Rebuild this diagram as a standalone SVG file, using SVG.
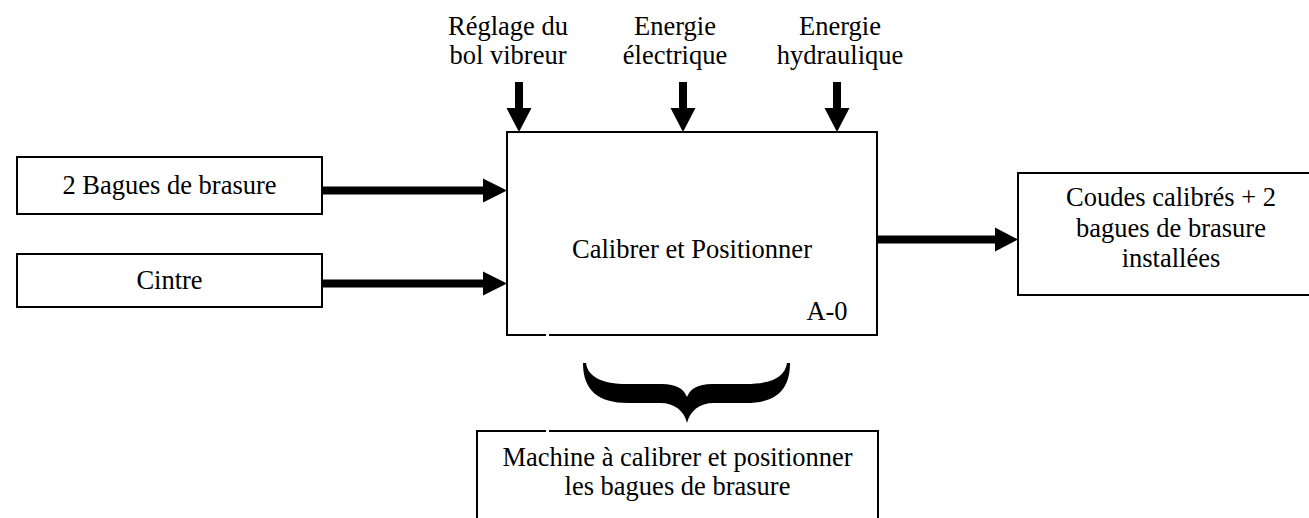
<svg xmlns="http://www.w3.org/2000/svg" width="1309" height="518" viewBox="0 0 1309 518">
  <style>
    .box { fill: none; stroke: #000; stroke-width: 2; }
    .t { font-family: "Liberation Serif", "Times New Roman", serif; font-size: 26.5px; fill: #000; text-anchor: middle; }
    .shaft { stroke: #000; stroke-width: 8; fill: none; }
    .head { fill: #000; stroke: none; }
  </style>
  <rect width="1309" height="518" fill="#fff"/>

  <g id="controls">
    <text class="t" x="508" y="35">Réglage du</text>
    <text class="t" x="508" y="63.5">bol vibreur</text>
    <text class="t" x="675" y="35">Energie</text>
    <text class="t" x="675" y="63.5">électrique</text>
    <text class="t" x="840" y="35">Energie</text>
    <text class="t" x="840" y="63.5">hydraulique</text>
  </g>

  <g id="node-input1">
    <rect class="box" x="17" y="157" width="305" height="57"/>
    <text class="t" x="169.5" y="193.5">2 Bagues de brasure</text>
  </g>

  <g id="node-input2">
    <rect class="box" x="17" y="254" width="305" height="53"/>
    <text class="t" x="169.5" y="288.5">Cintre</text>
  </g>

  <g id="node-main">
    <path class="box" d="M546,335 L507,335 L507,132 L877,132 L877,335 L549,335"/>
    <text class="t" x="692" y="258">Calibrer et Positionner</text>
    <text class="t" x="827" y="320">A-0</text>
  </g>

  <g id="node-output">
    <rect class="box" x="1018" y="173" width="320" height="122"/>
    <text class="t" x="1171" y="206">Coudes calibrés + 2</text>
    <text class="t" x="1171" y="236.5">bagues de brasure</text>
    <text class="t" x="1171" y="267">installées</text>
  </g>

  <g id="node-mechanism">
    <path class="box" d="M477,530 L477,431 L546,431 M549,431 L878,431 L878,530"/>
    <text class="t" x="677.5" y="466">Machine à calibrer et positionner</text>
    <text class="t" x="677.5" y="494.5">les bagues de brasure</text>
  </g>

  <g id="connectors">
    <line class="shaft" x1="322" y1="190.5" x2="485" y2="190.5"/>
    <polygon class="head" points="483,178.5 507,190.5 483,202.5"/>
    <line class="shaft" x1="322" y1="283.5" x2="485" y2="283.5"/>
    <polygon class="head" points="483,271.5 507,283.5 483,295.5"/>

    <line class="shaft" x1="519" y1="82" x2="519" y2="110"/>
    <polygon class="head" points="506.5,108 531.5,108 519,132"/>
    <line class="shaft" x1="683" y1="82" x2="683" y2="110"/>
    <polygon class="head" points="670.5,108 695.5,108 683,132"/>
    <line class="shaft" x1="837" y1="82" x2="837" y2="110"/>
    <polygon class="head" points="824.5,108 849.5,108 837,132"/>

    <line class="shaft" x1="876" y1="239.5" x2="997" y2="239.5"/>
    <polygon class="head" points="995,227.5 1018,239.5 995,251.5"/>

    <path class="head" d="M583,363 C583,390 598,403 628,403 L660,403 C675,403 684,411 687,423 C690,411 699,403 714,403 L746,403 C776,403 790,390 790,363 L787,363 C785,377 772,384 746,384 L712,384 C698,384 690,389 687,397 C684,389 676,384 662,384 L627,384 C602,384 588,377 586,363 Z"/>
  </g>
</svg>
